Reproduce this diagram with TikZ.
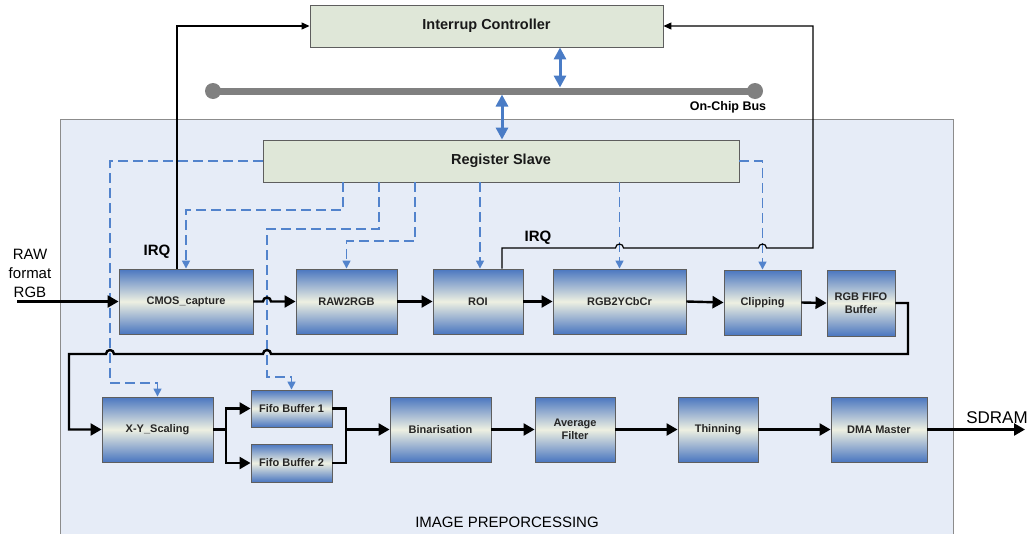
\documentclass[tikz,border=0pt]{standalone}
\usepackage{fontspec}
\setmainfont{Liberation Sans}
\usetikzlibrary{arrows.meta}
\definecolor{bgblue}{HTML}{E6ECF7}
\definecolor{bgedge}{HTML}{8C8C8C}
\definecolor{boxgreen}{HTML}{DFE7D8}
\definecolor{boxedge}{HTML}{5E5E5E}
\definecolor{gblue}{HTML}{4A76C0}
\definecolor{gmid}{HTML}{EEF0E2}
\definecolor{dblue}{HTML}{5283CC}
\definecolor{arrblue}{HTML}{4A7CC6}
\definecolor{busgray}{HTML}{808080}
\begin{document}
\begin{tikzpicture}[x=1pt,y=-1pt,
  blk/.style={draw=boxedge, line width=0.9pt, top color=gblue, bottom color=gblue, middle color=gmid,
    inner sep=0pt, align=center, text=black!85, font=\fontsize{11}{13.5}\selectfont\bfseries},
  gbox/.style={draw=boxedge, line width=0.9pt, fill=boxgreen, inner sep=0pt,
    font=\fontsize{14.5}{17}\selectfont\bfseries, text=black!90},
  flow/.style={line width=2.4pt, -{Triangle[length=11pt,width=12pt]}},
  flowline/.style={line width=2.4pt},
  irq/.style={line width=1.2pt, -{Triangle[length=8pt,width=7pt]}},
  dsh/.style={draw=dblue, line width=1.5pt, dash pattern=on 10pt off 5pt,
    -{Triangle[length=8pt,width=8pt,fill=dblue]}},
  dbl/.style={draw=arrblue, line width=3pt, {Triangle[length=12pt,width=12pt]}-{Triangle[length=12pt,width=12pt]}},
  lbl/.style={inner sep=0pt, align=center}
]
\useasboundingbox (0,0) rectangle (1032,533);

% processing area
\node[draw=bgedge, fill=bgblue, line width=1pt, minimum width=893pt, minimum height=430pt, inner sep=0pt] (pp) at (506.5,334) {};
\node[lbl, font=\fontsize{15}{17}\selectfont] (pplabel) at (507,522) {IMAGE PREPORCESSING};

% bus
\coordinate (busL) at (213,91);
\coordinate (busR) at (755,91);
\draw[busgray, line width=7pt] (busL) -- (busR);
\fill[busgray] (busL) circle[radius=8pt];
\fill[busgray] (busR) circle[radius=8pt];
\node[lbl, font=\fontsize{12.5}{14}\selectfont\bfseries] (buslabel) at (728,107) {On-Chip Bus};
\coordinate (bA) at (560,91);
\coordinate (bB) at (502,91);

% top-level boxes
\node[gbox, minimum width=353pt, minimum height=42pt] (ic) at (486.5,26) {Interrup Controller};
\node[gbox, minimum width=476pt, minimum height=42pt] (rs) at (501,161) {Register Slave};

% row 1
\node[blk, minimum width=134pt, minimum height=65pt] (cmos) at (186,301.5) {CMOS\_capture};
\node[blk, minimum width=101pt, minimum height=65pt] (raw) at (346.5,301.5) {RAW2RGB};
\node[blk, minimum width=90pt, minimum height=65pt] (roi) at (478,301.5) {ROI};
\node[blk, minimum width=133pt, minimum height=65pt] (ycc) at (619.5,301.5) {RGB2YCbCr};
\node[blk, minimum width=77pt, minimum height=65pt] (clip) at (762.5,302.5) {Clipping};
\node[blk, minimum width=68pt, minimum height=66pt] (fifo) at (861,303) {RGB FIFO\\Buffer};

% row 2
\node[blk, minimum width=111pt, minimum height=65pt] (xy) at (157.5,429.5) {X-Y\_Scaling};
\node[blk, minimum width=81pt, minimum height=37pt] (fb1) at (291.5,408.5) {Fifo Buffer 1};
\node[blk, minimum width=81pt, minimum height=38pt] (fb2) at (291.5,463) {Fifo Buffer 2};
\node[blk, minimum width=101pt, minimum height=65pt] (bin) at (440.5,429.5) {Binarisation};
\node[blk, minimum width=80pt, minimum height=65pt] (avg) at (575,429.5) {Average\\Filter};
\node[blk, minimum width=80pt, minimum height=65pt] (thin) at (718,429.5) {Thinning};
\node[blk, minimum width=96pt, minimum height=65pt] (dma) at (879,429.5) {DMA Master};

% outside labels
\node[lbl, font=\fontsize{15}{19}\selectfont] (rawlbl) at (30,273) {RAW\\format\\RGB};
\node[lbl, font=\fontsize{17}{19}\selectfont] (sdlbl) at (997,418) {SDRAM};
\node[lbl, font=\fontsize{15}{17}\selectfont\bfseries] (irq1) at (157,252) {IRQ};
\node[lbl, font=\fontsize{15}{17}\selectfont\bfseries] (irq2) at (538,238) {IRQ};

% bus connections
\draw[dbl] (ic.south -| bA) -- ([yshift=3.5pt]bA);
\draw[dbl] ([yshift=-3.5pt]bB) -- (rs.north -| bB);

% dashed control lines
\coordinate (d1) at (110,383);
\draw[dsh] (rs.west) -| (d1) -| (xy.north);
\coordinate (d2) at (343,210);
\draw[dsh] (rs.south -| d2) -- (d2) -| (cmos.north);
\coordinate (d3) at (379,229);
\coordinate (d3b) at (267,377);
\draw[dsh] (rs.south -| d3) -- (d3) -| (d3b) -| (fb1.north);
\coordinate (d4) at (415,241);
\draw[dsh] (rs.south -| d4) -- (d4) -| (raw.north);
\coordinate (d5) at (480,0);
\draw[dsh] (rs.south -| d5) -- (roi.north -| d5);
\draw[dsh] (rs.south -| ycc.north) -- (ycc.north);
\draw[dsh] (rs.east) -| (clip.north);

% interrupt lines
\coordinate (q1) at (177,0);
\draw[irq] (cmos.north -| q1) |- (ic.west);
\coordinate (q2) at (502,248);
\coordinate (q3) at (813,248);
\draw[irq] (roi.north -| q2) -- (q2) -- (615.5,248) arc[start angle=180, end angle=360, radius=4]
  -- (758.5,248) arc[start angle=180, end angle=360, radius=4] -- (q3) |- (ic.east);

% data flow row 1
\coordinate (rawin) at (17,301.5);
\draw[flow] (rawin) -- (cmos.west);
\draw[flow] (cmos.east) -- (263,301.5) arc[start angle=180, end angle=360, radius=4] -- (raw.west);
\draw[flow] (raw.east) -- (roi.west);
\draw[flow] (roi.east) -- (ycc.west);
\draw[flow] (ycc.east) -- (clip.west);
\draw[flow] (clip.east) -- (fifo.west);

% feedback
\coordinate (f1) at (908,354);
\coordinate (f2) at (69,354);
\draw[flow] (fifo.east) -| (f1) -- (271,354) arc[start angle=0, end angle=-180, radius=4]
  -- (114,354) arc[start angle=0, end angle=-180, radius=4] -- (f2) |- (xy.west);

% data flow row 2
\coordinate (sp) at (226,429.5);
\coordinate (mg) at (346,429.5);
\draw[flowline] (xy.east) -- (sp);
\draw[flow] (sp) |- (fb1.west);
\draw[flow] (sp) |- (fb2.west);
\draw[flowline] (fb1.east) -| (mg);
\draw[flowline] (fb2.east) -| (mg);
\draw[flow] (mg) -- (bin.west);
\draw[flow] (bin.east) -- (avg.west);
\draw[flow] (avg.east) -- (thin.west);
\draw[flow] (thin.east) -- (dma.west);
\coordinate (sdout) at (1025,429.5);
\draw[flow] (dma.east) -- (sdout);
\end{tikzpicture}
\end{document}
